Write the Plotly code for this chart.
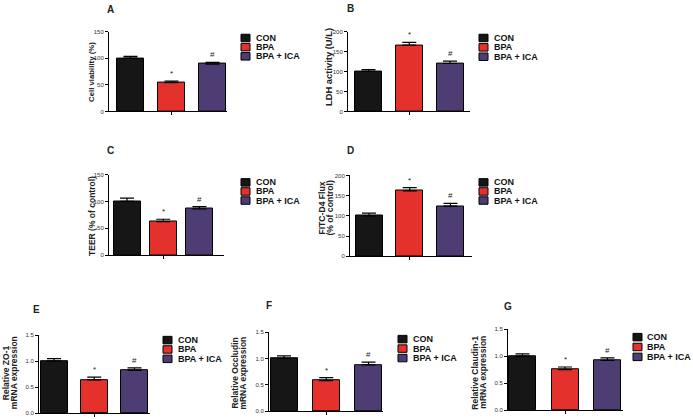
import plotly.graph_objects as go

# ---------------- data ----------------
groups = ["CON", "BPA", "BPA + ICA"]
group_colors = ["#161616", "#e5312b", "#4e3d72"]
sig_marks = ["", "*", "#"]

panel_letters = ["A", "B", "C", "D", "E", "F", "G"]
y_titles = [
    ["Cell viability (%)"],
    ["LDH activity (U/L)"],
    ["TEER (% of control)"],
    ["FITC-D4 Flux", "(% of control)"],
    ["Relative ZO-1", "mRNA expression"],
    ["Relative Occludin", "mRNA expression"],
    ["Relative Claudin-1", "mRNA expression"],
]

cell_viability = [100, 54, 89]
cell_viability_err = [3.5, 3, 3]
ldh_activity = [101, 166, 120]
ldh_activity_err = [4, 7, 6]
teer = [100, 62.5, 86]
teer_err = [6, 4.5, 4.5]
fitc_flux = [100, 162, 124]
fitc_flux_err = [7, 8, 7]
zo1 = [1.0, 0.64, 0.82]
zo1_err = [0.05, 0.05, 0.05]
occludin = [1.0, 0.58, 0.88]
occludin_err = [0.05, 0.055, 0.05]
claudin1 = [1.0, 0.75, 0.92]
claudin1_err = [0.045, 0.05, 0.05]

y_max = [150, 200, 150, 200, 1.5, 1.5, 1.5]
y_dtick = [50, 50, 50, 50, 0.5, 0.5, 0.5]
y_fmt = ["d", "d", "d", "d", ".1f", ".1f", ".1f"]

values = [cell_viability, ldh_activity, teer, fitc_flux, zo1, occludin, claudin1]
errors = [cell_viability_err, ldh_activity_err, teer_err, fitc_flux_err,
          zo1_err, occludin_err, claudin1_err]

# ---------------- layout geometry (pixels) ----------------
W, H = 693, 419
# axis_left, axis_right, first_center, last_center, y_top, y_bottom
geom = [
    (109, 227, 130.5, 212.5, 29, 110),
    (348, 470, 368.5, 450.0, 29, 110),
    (109, 224, 127.0, 199.5, 174, 256),
    (350, 472, 369.0, 450.5, 175, 257),
    (39, 150, 54.0, 134.5, 337, 416),
    (269, 383, 284.0, 368.5, 334, 414),
    (508, 623, 522.5, 607.5, 331, 413),
]
bar_px = 27
title_pos = [(92, 70), (328, 65), (92, 216), (326.5, 208), (9.5, 375), (239, 376), (479, 375)]
title_size = [7.8, 9.4, 8.5, 8.6, 8.5, 8.5, 8.5]
title_line_gap = 8
label_pos = [(111, 7), (351, 6), (111, 150), (351, 150), (36, 311), (269, 307), (508, 308)]
legend_pos = [(241, 35.5, 9.3), (479, 35.5, 9.5), (241, 182, 9.2), (479, 182, 9.2),
              (163, 342, 9.5), (398, 341, 9.6), (633, 339, 10)]
legend_text_gap = [13, 13, 13, 13, 13, 13, 12]

FONT = "Liberation Sans, Arial, sans-serif"

def px_x(v):
    return v / W

def px_y(v):
    return 1 - v / H

fig = go.Figure()
layout = dict(
    width=W, height=H, margin=dict(l=0, r=0, t=0, b=0),
    paper_bgcolor="white", plot_bgcolor="white", showlegend=False,
    font=dict(family=FONT, color="black"),
    bargap=0,
)
annotations = []
shapes = []

for i in range(7):
    axL, axR, c0, c2, yT, yB = geom[i]
    sp = (c2 - c0) / 2.0
    suffix = "" if i == 0 else str(i + 1)
    xa, ya = "x" + suffix, "y" + suffix
    for g, grp in enumerate(groups):
        fig.add_trace(go.Bar(
            x=[grp], y=[values[i][g]], xaxis=xa, yaxis=ya,
            width=bar_px / sp,
            marker=dict(color=group_colors[g], line=dict(color="black", width=1)),
            error_y=dict(type="data", array=[errors[i][g]], arrayminus=[0],
                         symmetric=False, color="black", thickness=1.2, width=7),
            name=grp,
        ))
        if sig_marks[g]:
            annotations.append(dict(
                x=grp, y=values[i][g] + errors[i][g], xref=xa, yref=ya,
                text=sig_marks[g], showarrow=False, yanchor="bottom", yshift=1,
                font=dict(size=8, family=FONT, color="#222"),
            ))
    layout["xaxis" + suffix] = dict(
        domain=[px_x(axL), px_x(axR)], anchor=ya,
        type="category", categoryorder="array", categoryarray=groups,
        range=[(axL - c0) / sp, (axR - c0) / sp],
        showline=True, linecolor="black", linewidth=1,
        showgrid=False, zeroline=False,
        tickmode="array", tickvals=["BPA"], ticktext=[""],
        ticks="outside", ticklen=3, tickwidth=1, tickcolor="black",
        fixedrange=True,
    )
    layout["yaxis" + suffix] = dict(
        domain=[px_y(yB), px_y(yT)], anchor=xa,
        range=[0, y_max[i]], dtick=y_dtick[i], tick0=0, tickformat=y_fmt[i],
        showline=True, linecolor="black", linewidth=1,
        showgrid=False, zeroline=False,
        ticks="outside", ticklen=3, tickwidth=1, tickcolor="black",
        tickfont=dict(size=6, family=FONT, color="#333"),
        fixedrange=True,
    )
    # y-axis title (one annotation per line for tight line spacing)
    tx, ty = title_pos[i]
    lines = y_titles[i]
    n = len(lines)
    for k, line in enumerate(lines):
        lxp = tx + (k - (n - 1) / 2.0) * title_line_gap
        annotations.append(dict(
            x=px_x(lxp), y=px_y(ty), xref="paper", yref="paper",
            text="<b>" + line + "</b>", textangle=-90, showarrow=False,
            xanchor="center", yanchor="middle",
            font=dict(size=title_size[i], family=FONT, color="#222"),
        ))
    # panel letter
    lx, ly = label_pos[i]
    annotations.append(dict(
        x=px_x(lx), y=px_y(ly), xref="paper", yref="paper",
        text="<b>" + panel_letters[i] + "</b>", showarrow=False,
        xanchor="center", yanchor="middle",
        font=dict(size=10, family=FONT, color="#222"),
    ))
    # legend
    gx, gy, gs = legend_pos[i]
    for g, grp in enumerate(groups):
        cy = gy + g * gs
        shapes.append(dict(
            type="rect", xref="paper", yref="paper",
            x0=px_x(gx), x1=px_x(gx + 9), y0=px_y(cy + 3.8), y1=px_y(cy - 3.8),
            fillcolor=group_colors[g], line=dict(color="black", width=1),
        ))
        annotations.append(dict(
            x=px_x(gx + legend_text_gap[i]), y=px_y(cy), xref="paper", yref="paper",
            text="<b>" + grp + "</b>", showarrow=False,
            xanchor="left", yanchor="middle",
            font=dict(size=9, family=FONT, color="#111"),
        ))

layout["annotations"] = annotations
layout["shapes"] = shapes
fig.update_layout(**layout)
fig.write_html(
    "out.html",
    config={"displayModeBar": False},
    post_script="document.body.style.margin='0';document.body.style.overflow='hidden';",
)
